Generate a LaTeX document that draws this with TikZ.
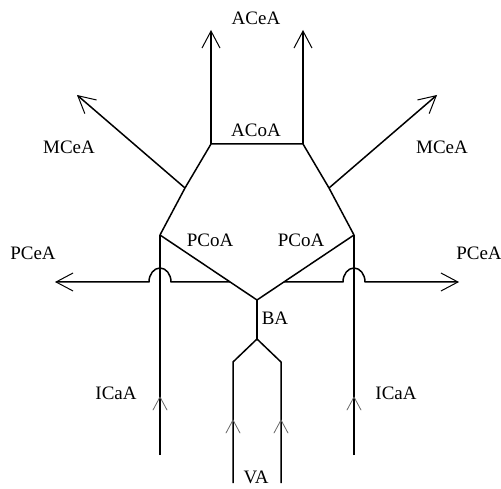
\documentclass[tikz,border=0pt]{standalone}
\usepackage{fontspec}
\setmainfont{Liberation Serif}
\usetikzlibrary{arrows.meta,decorations.markings,calc}
\begin{document}
\begin{tikzpicture}[x=1pt,y=1pt,
  vessel/.style={line width=1.5pt,line join=round},
  outflow/.style={vessel,-{Straight Barb[length=17pt,width=18pt,line width=1pt]}},
  lbl/.style={inner sep=0pt,font=\fontsize{19}{22}\selectfont},
  flowmark/.style={postaction={decorate},decoration={markings,
     mark=at position #1 with {\draw[black!60,line width=0.8pt,line cap=round] (-13pt,7pt) -- (0pt,0pt) -- (-13pt,-7pt);}}}
]
\useasboundingbox (0,0) rectangle (501,488);
% coordinates
\coordinate (tl) at (211,344);
\coordinate (tr) at (303,344);
\coordinate (ml) at (185,300);
\coordinate (mr) at (329,300);
\coordinate (pl) at (160,253);
\coordinate (pr) at (354,253);
\coordinate (ba) at (257,188);
\coordinate (bs) at (257,149);
\coordinate (vl) at (233,126);
\coordinate (vr) at (281,126);
\coordinate (vlb) at (233,5);
\coordinate (vrb) at (281,5);
\coordinate (il) at (160,33);
\coordinate (ir) at (354,33);
\coordinate (acl) at (211,458);
\coordinate (acr) at (303,458);
\coordinate (mcl) at (77,393);
\coordinate (mcr) at (437,393);
\coordinate (pcl) at (55,206);
\coordinate (pcr) at (459,206);
\coordinate (jl) at ($(pl)!0.723!(ba)$);
\coordinate (jr) at ($(pr)!0.723!(ba)$);
\coordinate (hl) at (171,206);
\coordinate (hr) at (343,206);
% hexagon (circle of Willis)
\draw[vessel] (ba) -- (pl) -- (ml) -- (tl) -- (tr) -- (mr) -- (pr) -- cycle;
% anterior cerebral
\draw[outflow] (tl) -- (acl);
\draw[outflow] (tr) -- (acr);
% middle cerebral
\draw[outflow] (ml) -- (mcl);
\draw[outflow] (mr) -- (mcr);
% posterior cerebral with hops
\draw[outflow] (jl |- hl) -- (hl) arc[start angle=0,end angle=180,x radius=11,y radius=14] -- (pcl);
\draw[outflow] (jr |- hr) -- (hr) arc[start angle=180,end angle=0,x radius=11,y radius=14] -- (pcr);
% internal carotids
\draw[vessel,flowmark=58pt] (il) -- (pl);
\draw[vessel,flowmark=58pt] (ir) -- (pr);
% basilar and vertebrals
\draw[vessel] (ba) -- (bs);
\draw[vessel,flowmark=63pt] (vlb) -- (vl) -- (bs);
\draw[vessel,flowmark=63pt] (vrb) -- (vr) -- (bs);
% labels
\node[lbl] (tACeA) at (256,470) {ACeA};
\node[lbl] (tACoA) at (256,358) {ACoA};
\node[lbl] (tMCeAl) at (69,341) {MCeA};
\node[lbl] (tMCeAr) at (442,341) {MCeA};
\node[lbl] (tPCeAl) at (33,235) {PCeA};
\node[lbl] (tPCeAr) at (479,235) {PCeA};
\node[lbl] (tPCoAl) at (210,248) {PCoA};
\node[lbl] (tPCoAr) at (301,248) {PCoA};
\node[lbl] (tBA) at (275,170) {BA};
\node[lbl] (tICaAl) at (116,95) {ICaA};
\node[lbl] (tICaAr) at (396,95) {ICaA};
\node[lbl] (tVA) at (256,11) {VA};
\end{tikzpicture}
\end{document}
